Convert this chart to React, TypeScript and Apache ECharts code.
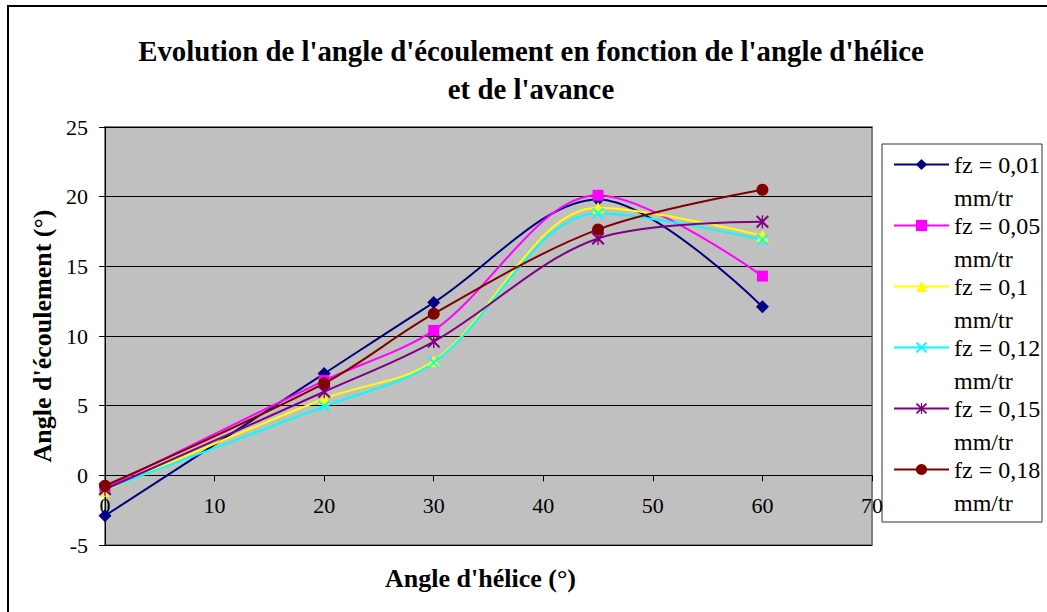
import React, { useEffect, useRef } from "react";
import * as echarts from "echarts";

const angles = [0, 20, 30, 45, 60];
const fz001 = [-2.9, 7.3, 12.4, 19.8, 12.1];
const fz005 = [-0.9, 6.8, 10.4, 20.1, 14.3];
const fz01 = [-1.1, 5.5, 8.2, 19.2, 17.2];
const fz012 = [-1.0, 4.95, 8.1, 18.8, 16.9];
const fz015 = [-1.0, 6.0, 9.6, 17.0, 18.2];
const fz018 = [-0.75, 6.6, 11.6, 17.65, 20.5];

const seriesNames = [
  "fz = 0,01 mm/tr",
  "fz = 0,05 mm/tr",
  "fz = 0,1 mm/tr",
  "fz = 0,12 mm/tr",
  "fz = 0,15 mm/tr",
  "fz = 0,18 mm/tr",
];
const seriesValues = [fz001, fz005, fz01, fz012, fz015, fz018];
const seriesColors = ["#000080", "#FF00FF", "#FFFF00", "#00FFFF", "#800080", "#800000"];

const X_PATH =
  "path://M0,1.1 L1.1,0 L5,3.9 L8.9,0 L10,1.1 L6.1,5 L10,8.9 L8.9,10 L5,6.1 L1.1,10 L0,8.9 L3.9,5 Z";
const STAR_PATH =
  "path://M0,1.1 L1.1,0 L5,3.9 L8.9,0 L10,1.1 L6.1,5 L10,8.9 L8.9,10 L5,6.1 L1.1,10 L0,8.9 L3.9,5 Z M4.45,0 L5.55,0 L5.55,10 L4.45,10 Z";
const seriesSymbols = ["diamond", "rect", "triangle", X_PATH, STAR_PATH, "circle"];
const seriesSymbolSizes = [13, 11, 12, 12, 13, 12];

const FONT = '"Liberation Serif", "Times New Roman", serif';

export default function App() {
  const ref = useRef<HTMLDivElement>(null);
  useEffect(() => {
    if (!ref.current) return;
    const chart = echarts.init(ref.current, null, { renderer: "svg" });
    const option: any = {
      animation: false,
      backgroundColor: "#ffffff",
      textStyle: { fontFamily: FONT, color: "#000" },
      title: {
        text: "Evolution de l'angle d'écoulement en fonction de l'angle d'hélice\net de l'avance",
        left: 531,
        top: 32,
        padding: 0,
        textAlign: "center",
        textStyle: {
          fontFamily: FONT,
          fontSize: 28.8,
          fontWeight: "bold",
          lineHeight: 38,
          color: "#000",
        },
      },
      grid: {
        left: 105,
        top: 127,
        width: 767,
        height: 418,
        outerBoundsMode: "none",
        containLabel: false,
        show: true,
        backgroundColor: "#C0C0C0",
        borderColor: "#808080",
        borderWidth: 2,
      },
      legend: {
        orient: "vertical",
        left: 893,
        top: 115,
        padding: 0,
        itemWidth: 55,
        itemHeight: 14,
        itemGap: -38,
        formatter: (name: string) => " \n" + name.replace(" mm/tr", "\nmm/tr"),
        textStyle: {
          fontFamily: FONT,
          fontSize: 24,
          lineHeight: 33,
          color: "#000",
        },
        data: seriesNames,
      },
      xAxis: {
        type: "value",
        min: 0,
        max: 70,
        interval: 10,
        offset: -69.7,
        name: "Angle d'hélice (°)",
        nameLocation: "middle",
        nameGap: 90,
        nameTextStyle: {
          fontFamily: FONT,
          fontSize: 26,
          fontWeight: "bold",
          color: "#000",
          padding: [0, 16, 0, 0],
        },
        axisLine: { show: true, onZero: false, lineStyle: { color: "#000", width: 1 } },
        axisTick: { show: true, inside: false, length: 6, lineStyle: { color: "#000" } },
        axisLabel: { fontFamily: FONT, fontSize: 22, color: "#000", margin: 19 },
        splitLine: { show: false },
      },
      yAxis: {
        type: "value",
        min: -5,
        max: 25,
        interval: 5,
        name: "Angle d'écoulement (°)",
        nameLocation: "middle",
        nameGap: 48,
        nameTextStyle: {
          fontFamily: FONT,
          fontSize: 26,
          fontWeight: "bold",
          color: "#000",
        },
        axisLine: { show: true, onZero: false, lineStyle: { color: "#000", width: 1 } },
        axisTick: { show: true, inside: false, length: 6, lineStyle: { color: "#000" } },
        axisLabel: { fontFamily: FONT, fontSize: 22, color: "#000", margin: 17 },
        splitLine: { show: true, lineStyle: { color: "#000", width: 1 } },
      },
      graphic: [
        {
          type: "rect",
          shape: { x: 8, y: 6, width: 1200, height: 800 },
          style: { fill: "none", stroke: "#000", lineWidth: 2 },
          silent: true,
        },
        {
          type: "rect",
          shape: { x: 882, y: 144, width: 160, height: 378 },
          style: { fill: "none", stroke: "#333", lineWidth: 1 },
          silent: true,
        },
      ],
      series: seriesNames.map((name, i) => ({
        name,
        type: "line",
        smooth: 0.33,
        clip: false,
        data: angles.map((a, j) => [a, seriesValues[i][j]]),
        symbol: seriesSymbols[i],
        symbolSize: seriesSymbolSizes[i],
        showAllSymbol: true,
        lineStyle: { color: seriesColors[i], width: 2 },
        itemStyle: { color: seriesColors[i] },
      })),
    };
    chart.setOption(option);
    return () => chart.dispose();
  }, []);
  return (
    <div
      ref={ref}
      style={{ position: "fixed", left: 0, top: 0, width: 1047, height: 612 }}
    />
  );
}
